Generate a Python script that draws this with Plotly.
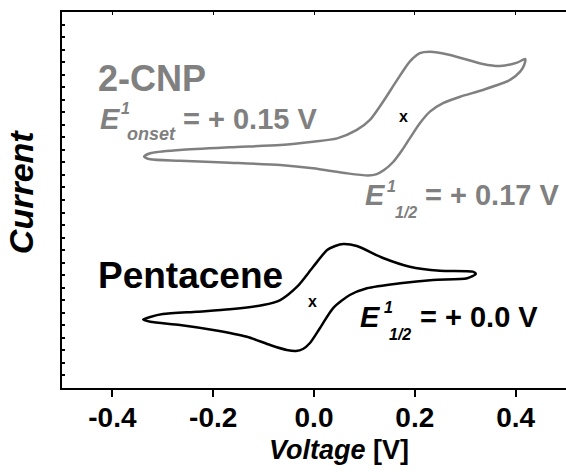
import plotly.graph_objects as go

# Cyclic voltammograms (potential in V, current in arbitrary units, curves offset vertically)
pentacene_v = [-0.339, -0.325, -0.300, -0.232, -0.167, -0.101, -0.067, -0.034, -0.002, 0.026,
               0.042, 0.058, 0.085, 0.137, 0.190, 0.250, 0.315, 0.321, 0.304, 0.236,
               0.171, 0.105, 0.071, 0.038, 0.012, -0.008, -0.022, -0.036, -0.054, -0.087,
               -0.133, -0.200, -0.266, -0.325, -0.339]
pentacene_i = [5.47, 5.67, 5.90, 6.09, 6.28, 6.62, 7.02, 8.06, 9.65, 11.01,
               11.33, 11.49, 11.33, 10.37, 9.68, 9.36, 9.28, 9.10, 8.75, 8.62,
               8.36, 7.96, 7.42, 6.38, 4.79, 3.59, 3.11, 2.95, 3.03, 3.43,
               4.09, 4.63, 5.03, 5.29, 5.47]

cnp_v = [-0.337, -0.325, -0.266, -0.167, -0.067, -0.002, 0.046, 0.085, 0.111, 0.137,
         0.165, 0.190, 0.210, 0.230, 0.270, 0.335, 0.369, 0.403, 0.419, 0.417,
         0.409, 0.389, 0.335, 0.290, 0.256, 0.230, 0.210, 0.190, 0.175, 0.157,
         0.139, 0.123, 0.107, 0.065, -0.002, -0.067, -0.167, -0.266, -0.325, -0.337]
cnp_i = [18.46, 18.73, 18.99, 19.21, 19.39, 19.65, 19.92, 20.59, 21.39, 22.84,
         24.58, 26.04, 26.71, 26.83, 26.57, 25.85, 25.69, 25.96, 26.25, 25.77,
         25.24, 24.58, 23.78, 23.24, 22.72, 22.05, 21.12, 19.92, 18.99, 18.03,
         17.39, 17.04, 16.96, 17.13, 17.53, 17.79, 17.98, 18.14, 18.25, 18.46]

# Half-wave potential markers (V, current)
pentacene_half = (-0.002, 6.94)
cnp_half = (0.177, 21.70)

x_ticks = [-0.4, -0.2, 0.0, 0.2, 0.4]
x_tick_text = ["-0.4", "-0.2", "0.0", "0.2", "0.4"]

FONT = "Liberation Sans, Arial, sans-serif"
GRAY = "#808080"
BLACK = "#000000"

fig = go.Figure()
fig.add_trace(go.Scatter(x=cnp_v, y=cnp_i, mode="lines",
                         line=dict(color=GRAY, width=2.5, shape="spline", smoothing=0.7),
                         showlegend=False, hoverinfo="skip"))
fig.add_trace(go.Scatter(x=pentacene_v, y=pentacene_i, mode="lines",
                         line=dict(color=BLACK, width=2.5, shape="spline", smoothing=0.7),
                         showlegend=False, hoverinfo="skip"))
# carrier trace for the top (mirrored) tick axis
fig.add_trace(go.Scatter(x=[], y=[], xaxis="x2", showlegend=False, hoverinfo="skip"))


def text(x, y, s, size, color, italic=False, bold=True, xanchor="left", yanchor="middle"):
    return dict(x=x, y=y, xref="x", yref="y", text=s, showarrow=False,
                xanchor=xanchor, yanchor=yanchor,
                font=dict(family=FONT, size=size, color=color,
                          weight="bold" if bold else "normal",
                          style="italic" if italic else "normal"))


annotations = [
    # 2-CNP labels
    text(-0.433, 24.7, "2-CNP", 36, GRAY),
    text(-0.429, 21.5, "E", 29, GRAY, italic=True),
    text(-0.387, 22.3, "1", 16, GRAY, italic=True),
    text(-0.375, 20.3, "onset", 18, GRAY, italic=True),
    text(-0.264, 21.5, "= + 0.15 V", 29, GRAY),
    text(cnp_half[0], cnp_half[1], "x", 16, BLACK, xanchor="center"),
    text(0.097, 15.4, "E", 29, GRAY, italic=True),
    text(0.141, 16.1, "1", 16, GRAY, italic=True),
    text(0.157, 14.0, "1/2", 16, GRAY, italic=True),
    text(0.216, 15.4, "= + 0.17 V", 29, GRAY),
    # Pentacene labels
    text(-0.433, 9.0, "Pentacene", 37, BLACK),
    text(pentacene_half[0], pentacene_half[1], "x", 16, BLACK, xanchor="center"),
    text(0.087, 5.63, "E", 29, BLACK, italic=True),
    text(0.135, 6.4, "1", 16, BLACK, italic=True),
    text(0.145, 4.3, "1/2", 16, BLACK, italic=True),
    text(0.206, 5.63, "= + 0.0 V", 29, BLACK),
    # axis titles
    dict(x=-0.08, y=0.52, xref="paper", yref="paper", text="Current", showarrow=False,
         textangle=-90, xanchor="center", yanchor="middle",
         font=dict(family=FONT, size=34, color=BLACK, weight="bold", style="italic")),
    dict(x=0.55, y=-0.165, xref="paper", yref="paper",
         text="<i>Voltage</i> [V]", showarrow=False, xanchor="center", yanchor="middle",
         font=dict(family=FONT, size=27, color=BLACK, weight="bold")),
]

fig.update_layout(
    width=566, height=472,
    margin=dict(l=62, r=0, t=12, b=84),
    paper_bgcolor="white", plot_bgcolor="white",
    annotations=annotations,
    xaxis=dict(range=[-0.5, 0.5], tickvals=x_ticks, ticktext=x_tick_text,
               ticks="outside", ticklen=7, tickwidth=2, tickcolor=BLACK,
               ticklabelstandoff=-4,
               showline=True, linewidth=2, linecolor=BLACK, mirror=True,
               showgrid=False, zeroline=False,
               tickfont=dict(family=FONT, size=28, color=BLACK, weight="bold")),
    xaxis2=dict(range=[-0.5, 0.5], overlaying="x", side="top", tickvals=x_ticks,
                ticks="inside", ticklen=3, tickwidth=1, tickcolor=BLACK,
                showticklabels=False, showline=False, showgrid=False, zeroline=False),
    yaxis=dict(range=[0, 30], dtick=1, ticks="inside", ticklen=3, tickwidth=1.5,
               tickcolor=BLACK, showticklabels=False,
               showline=True, linewidth=2, linecolor=BLACK,
               showgrid=False, zeroline=False),
)

fig.write_html("out.html")
